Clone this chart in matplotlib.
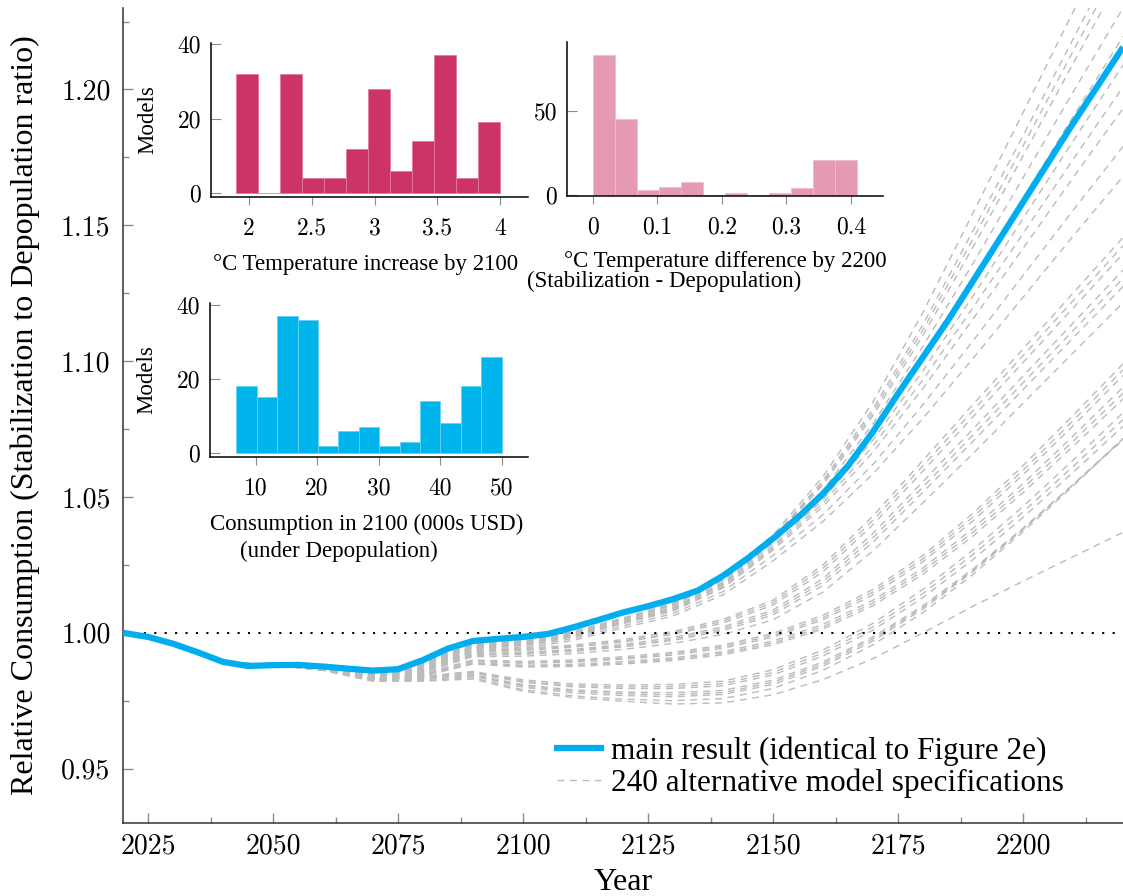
import matplotlib
matplotlib.use("Agg")
import matplotlib.pyplot as plt
import numpy as np
from matplotlib.ticker import MultipleLocator, FixedLocator

plt.rcParams['axes.unicode_minus'] = False

# Main result, every 5 years 2020-2220
YEARS_MAIN = np.arange(2020, 2221, 5)
MAIN = [1.0000, 0.9985, 0.9960, 0.9928, 0.9893, 0.9878, 0.9881, 0.9882, 0.9876,
        0.9868, 0.9861, 0.9866, 0.9900, 0.9942, 0.9970, 0.9978, 0.9985, 0.9996,
        1.0020, 1.0047, 1.0075, 1.0098, 1.0124, 1.0156, 1.0210, 1.0275, 1.0347,
        1.0425, 1.0512, 1.0615, 1.0740, 1.0880, 1.1015, 1.1150, 1.1295, 1.1440,
        1.1585, 1.1730, 1.1875, 1.2015, 1.2156]

# Alternative specifications, every 10 years; identical up to 2050
YEARS_ALT = np.arange(2020, 2221, 10)
ALT_EARLY = [1.0000, 0.9960, 0.9893, 0.9881]
# 2060 ... 2220
ALT_UPPER = [
    [.9874, .9858, .9893, .9958, .9972, 1.0005, 1.0055, 1.0110, 1.0210, 1.0360, 1.0575, 1.0850, 1.1180, 1.1545, 1.1915, 1.2285, 1.2660],
    [.9874, .9856, .9891, .9955, .9970, 1.0002, 1.0052, 1.0105, 1.0200, 1.0350, 1.0560, 1.0825, 1.1135, 1.1480, 1.1830, 1.2185, 1.2540],
    [.9873, .9855, .9890, .9954, .9968, 1.0000, 1.0050, 1.0102, 1.0196, 1.0348, 1.0552, 1.0812, 1.1115, 1.1450, 1.1792, 1.2140, 1.2488],
    [.9873, .9853, .9888, .9952, .9966, .9998, 1.0048, 1.0100, 1.0192, 1.0345, 1.0545, 1.0800, 1.1095, 1.1420, 1.1755, 1.2095, 1.2435],
    [.9872, .9850, .9885, .9950, .9962, .9994, 1.0044, 1.0094, 1.0185, 1.0340, 1.0525, 1.0770, 1.1055, 1.1360, 1.1675, 1.1990, 1.2300],
    [.9871, .9849, .9884, .9948, .9960, .9992, 1.0042, 1.0091, 1.0180, 1.0330, 1.0508, 1.0740, 1.1010, 1.1300, 1.1600, 1.1900, 1.2195],
    [.9871, .9848, .9882, .9946, .9958, .9990, 1.0040, 1.0088, 1.0176, 1.0320, 1.0490, 1.0710, 1.0965, 1.1240, 1.1525, 1.1810, 1.2090],
    [.9870, .9846, .9880, .9944, .9955, .9987, 1.0037, 1.0084, 1.0170, 1.0312, 1.0477, 1.0688, 1.0932, 1.1197, 1.1470, 1.1742, 1.2010],
    [.9870, .9845, .9878, .9942, .9953, .9985, 1.0034, 1.0080, 1.0165, 1.0305, 1.0465, 1.0665, 1.0900, 1.1155, 1.1415, 1.1675, 1.1930],
    [.9869, .9842, .9874, .9938, .9948, .9979, 1.0026, 1.0071, 1.0152, 1.0285, 1.0435, 1.0620, 1.0840, 1.1075, 1.1315, 1.1555, 1.1790],
    [.9868, .9840, .9870, .9934, .9942, .9972, 1.0018, 1.0062, 1.0140, 1.0265, 1.0410, 1.0585, 1.0790, 1.1010, 1.1235, 1.1460, 1.1680],
]
ALT_MIDDLE = [
    [.9870, .9840, .9866, .9932, .9942, .9955, .9975, 1.0005, 1.0050, 1.0120, 1.0250, 1.0430, 1.0635, 1.0840, 1.1045, 1.1250, 1.1455],
    [.9869, .9839, .9864, .9930, .9938, .9951, .9970, .9999, 1.0043, 1.0111, 1.0238, 1.0414, 1.0615, 1.0818, 1.1020, 1.1222, 1.1425],
    [.9869, .9838, .9863, .9927, .9935, .9947, .9966, .9994, 1.0036, 1.0102, 1.0225, 1.0398, 1.0596, 1.0795, 1.0995, 1.1195, 1.1395],
    [.9868, .9836, .9860, .9922, .9928, .9939, .9957, .9983, 1.0022, 1.0084, 1.0200, 1.0366, 1.0557, 1.0750, 1.0945, 1.1140, 1.1335],
    [.9867, .9835, .9858, .9920, .9925, .9935, .9952, .9977, 1.0015, 1.0075, 1.0188, 1.0350, 1.0537, 1.0728, 1.0920, 1.1112, 1.1305],
    [.9867, .9834, .9857, .9917, .9921, .9931, .9948, .9972, 1.0008, 1.0066, 1.0175, 1.0334, 1.0518, 1.0705, 1.0895, 1.1085, 1.1275],
    [.9866, .9832, .9854, .9912, .9914, .9923, .9939, .9961, .9994, 1.0048, 1.0150, 1.0302, 1.0479, 1.0660, 1.0845, 1.1030, 1.1215],
]
ALT_LOWER_MID = [
    [.9866, .9832, .9850, .9900, .9895, .9900, .9912, .9928, .9955, .9998, 1.0065, 1.0160, 1.0285, 1.0440, 1.0615, 1.0800, 1.0990],
    [.9865, .9831, .9848, .9897, .9891, .9896, .9907, .9923, .9949, .9991, 1.0056, 1.0150, 1.0273, 1.0426, 1.0598, 1.0781, 1.0968],
    [.9865, .9830, .9847, .9895, .9888, .9892, .9903, .9918, .9943, .9984, 1.0048, 1.0140, 1.0262, 1.0412, 1.0582, 1.0762, 1.0947],
    [.9864, .9828, .9844, .9890, .9881, .9884, .9894, .9908, .9931, .9970, 1.0031, 1.0120, 1.0239, 1.0384, 1.0549, 1.0724, 1.0904],
    [.9864, .9827, .9842, .9887, .9877, .9880, .9889, .9903, .9925, .9963, 1.0022, 1.0110, 1.0228, 1.0370, 1.0532, 1.0705, 1.0882],
    [.9863, .9826, .9841, .9885, .9874, .9876, .9885, .9898, .9919, .9956, 1.0014, 1.0100, 1.0216, 1.0356, 1.0516, 1.0686, 1.0861],
]
ALT_LOWER = [
    [.9866, .9830, .9840, .9858, .9827, .9812, .9808, .9810, .9822, .9864, .9937, 1.0035, 1.0160, 1.0305, 1.0465, 1.0635, 1.0810],
    [.9865, .9829, .9838, .9855, .9822, .9806, .9801, .9802, .9813, .9854, .9926, 1.0022, 1.0145, 1.0288, 1.0445, 1.0612, 1.0785],
    [.9865, .9828, .9836, .9852, .9818, .9801, .9795, .9795, .9805, .9845, .9915, 1.0010, 1.0130, 1.0270, 1.0425, 1.0590, 1.0760],
    [.9864, .9826, .9832, .9846, .9809, .9790, .9782, .9780, .9788, .9826, .9893, .9985, 1.0100, 1.0235, 1.0385, 1.0545, 1.0710],
    [.9863, .9825, .9830, .9843, .9805, .9785, .9776, .9772, .9780, .9818, .9885, .9978, 1.0094, 1.0230, 1.0382, 1.0545, 1.0712],
    [.9863, .9824, .9828, .9840, .9800, .9779, .9769, .9765, .9773, .9810, .9877, .9970, 1.0088, 1.0226, 1.0380, 1.0545, 1.0715],
    [.9862, .9822, .9824, .9834, .9791, .9768, .9756, .9750, .9758, .9795, .9862, .9956, 1.0075, 1.0215, 1.0372, 1.0540, 1.0715],
]
ALT_OUTLIER = [
    [.9862, .9822, .9822, .9830, .9785, .9762, .9748, .9738, .9742, .9772, .9828, .9905, 1.0000, 1.0098, 1.0190, 1.0280, 1.0370],
]

# Histogram counts (number of models per bin)
TEMP_RANGE = (1.9, 4.0)
TEMP_COUNTS = [32, 0, 32, 4, 4, 12, 28, 6, 14, 37, 4, 19]
DIFF_RANGE = (0.0, 0.41)
DIFF_COUNTS = [83, 45, 3, 5, 8, 0, 1, 0, 1, 4, 21, 21]
CONS_RANGE = (6.9, 50.0)
CONS_COUNTS = [18, 15, 37, 36, 2, 6, 7, 2, 3, 14, 8, 18, 26]

CYAN = '#00AEEF'
GREY = '#BBBBBB'
TICK_GREY = '#8C8C8C'
NUM_FONT = 'cmr10'
TXT_FONT = 'Liberation Serif'

W, H = 1123, 896
fig = plt.figure(figsize=(W / 100, H / 100), dpi=100)


def px_axes(left, top, right, bottom):
    return fig.add_axes([left / W, 1 - bottom / H, (right - left) / W, (bottom - top) / H])


ax = px_axes(123, 8, 1123, 823)

for group in (ALT_UPPER, ALT_MIDDLE, ALT_LOWER_MID, ALT_LOWER, ALT_OUTLIER):
    for vals in group:
        ax.plot(YEARS_ALT, ALT_EARLY + vals, color=GREY, lw=1.0,
                ls=(0, (5, 4)), zorder=2)

ax.axhline(1.0, color='black', lw=1.5, ls=(0, (1, 4)), zorder=3)
ax.plot(YEARS_MAIN, MAIN, color=CYAN, lw=4.5, solid_capstyle='butt', zorder=4)

ax.set_xlim(2020, 2220)
ax.set_ylim(0.93, 1.23)
ax.xaxis.set_major_locator(MultipleLocator(25))
ax.xaxis.set_minor_locator(MultipleLocator(12.5))
ax.yaxis.set_major_locator(MultipleLocator(0.05))
ax.yaxis.set_minor_locator(MultipleLocator(0.025))
ax.yaxis.set_major_formatter(lambda v, p: f"{v:.2f}")
ax.xaxis.set_major_formatter(lambda v, p: f"{v:.0f}")
ax.tick_params(which='both', direction='in', color=TICK_GREY, width=1)
ax.tick_params(which='major', length=7, labelsize=20)
ax.tick_params(which='minor', length=4)
ax.tick_params(axis='x', pad=7)
ax.tick_params(axis='y', pad=9)
for lab in ax.get_xticklabels() + ax.get_yticklabels():
    lab.set_family(NUM_FONT)
for s in ('top', 'right'):
    ax.spines[s].set_visible(False)
for s in ('left', 'bottom'):
    ax.spines[s].set_color('#333333')
    ax.spines[s].set_linewidth(1.1)

ax.set_xlabel("Year", family=TXT_FONT, fontsize=23)
ax.xaxis.set_label_coords(0.5, -0.0736)
ax.xaxis.label.set_va('center')
ax.set_ylabel("Relative Consumption (Stabilization to Depopulation ratio)",
              family=TXT_FONT, fontsize=23)
ax.yaxis.set_label_coords(-0.098, 0.5)
ax.yaxis.label.set_va('center')

h_main, = ax.plot([], [], color=CYAN, lw=4.5)
h_alt, = ax.plot([], [], color=GREY, lw=1.0, ls=(0, (5, 4)))
ax.legend([h_main, h_alt],
          ["main result (identical to Figure 2e)", "240 alternative model specifications"],
          loc='center left', bbox_to_anchor=(0.434, 0.0687), frameon=False,
          borderpad=0, borderaxespad=0, handlelength=1.4, handletextpad=0.33,
          labelspacing=0.08, prop={'family': TXT_FONT, 'size': 22.5})


def histogram(box, rng, counts, color, edge, xlim, ylim, xticks, xticklabels,
              yticks, xlabel_lines, show_ylabel):
    hx = px_axes(*box)
    hx.set_facecolor('none')
    edges = np.linspace(rng[0], rng[1], len(counts) + 1)
    hx.bar(edges[:-1], counts, width=np.diff(edges), align='edge',
           color=color, edgecolor=edge, linewidth=0.6)
    hx.set_xlim(*xlim)
    hx.set_ylim(*ylim)
    hx.xaxis.set_major_locator(FixedLocator(xticks))
    hx.set_xticklabels(xticklabels)
    hx.yaxis.set_major_locator(FixedLocator(yticks))
    hx.set_yticklabels([str(t) for t in yticks])
    hx.tick_params(axis='x', direction='out', length=6, color=TICK_GREY,
                   labelsize=17, pad=9)
    hx.tick_params(axis='y', direction='in', length=7, color=TICK_GREY,
                   labelsize=17, pad=7)
    for lab in hx.get_xticklabels() + hx.get_yticklabels():
        lab.set_family(NUM_FONT)
    for s in ('top', 'right'):
        hx.spines[s].set_visible(False)
    for s in ('left', 'bottom'):
        hx.spines[s].set_linewidth(1.1)
    if show_ylabel:
        hx.set_ylabel("Models", family=TXT_FONT, fontsize=16.5)
        hx.yaxis.set_label_coords(-0.2, 0.5)
        hx.yaxis.label.set_va('center')
    for text, xf, yf in xlabel_lines:
        fig.text(xf / W, 1 - yf / H, text, family=TXT_FONT, fontsize=16.5,
                 ha='center', va='center')
    return hx


histogram((211, 43, 528, 197), TEMP_RANGE, TEMP_COUNTS, '#CC3467', '#E07A9C',
          (1.7, 4.22), (-1.0, 40.3), [2, 2.5, 3, 3.5, 4],
          ['2', '2.5', '3', '3.5', '4'], [0, 20, 40],
          [("°C Temperature increase by 2100", 366, 264)], True)

histogram((567, 42, 883, 196), DIFF_RANGE, DIFF_COUNTS, '#E59AB4', '#F0BCCE',
          (-0.04, 0.45), (-0.6, 91), [0, 0.1, 0.2, 0.3, 0.4],
          ['0', '0.1', '0.2', '0.3', '0.4'], [0, 50],
          [("°C Temperature difference by 2200", 725, 262),
           ("(Stabilization - Depopulation)", 664, 281)], False)

histogram((210, 303, 528, 457), CONS_RANGE, CONS_COUNTS, '#00B5EC', '#66D2F4',
          (2.6, 54.3), (-1.08, 40.5), [10, 20, 30, 40, 50],
          ['10', '20', '30', '40', '50'], [0, 20, 40],
          [("Consumption in 2100 (000s USD)", 367, 524),
           ("(under Depopulation)", 339, 551)], True)

fig.savefig("out.png", dpi=100)
